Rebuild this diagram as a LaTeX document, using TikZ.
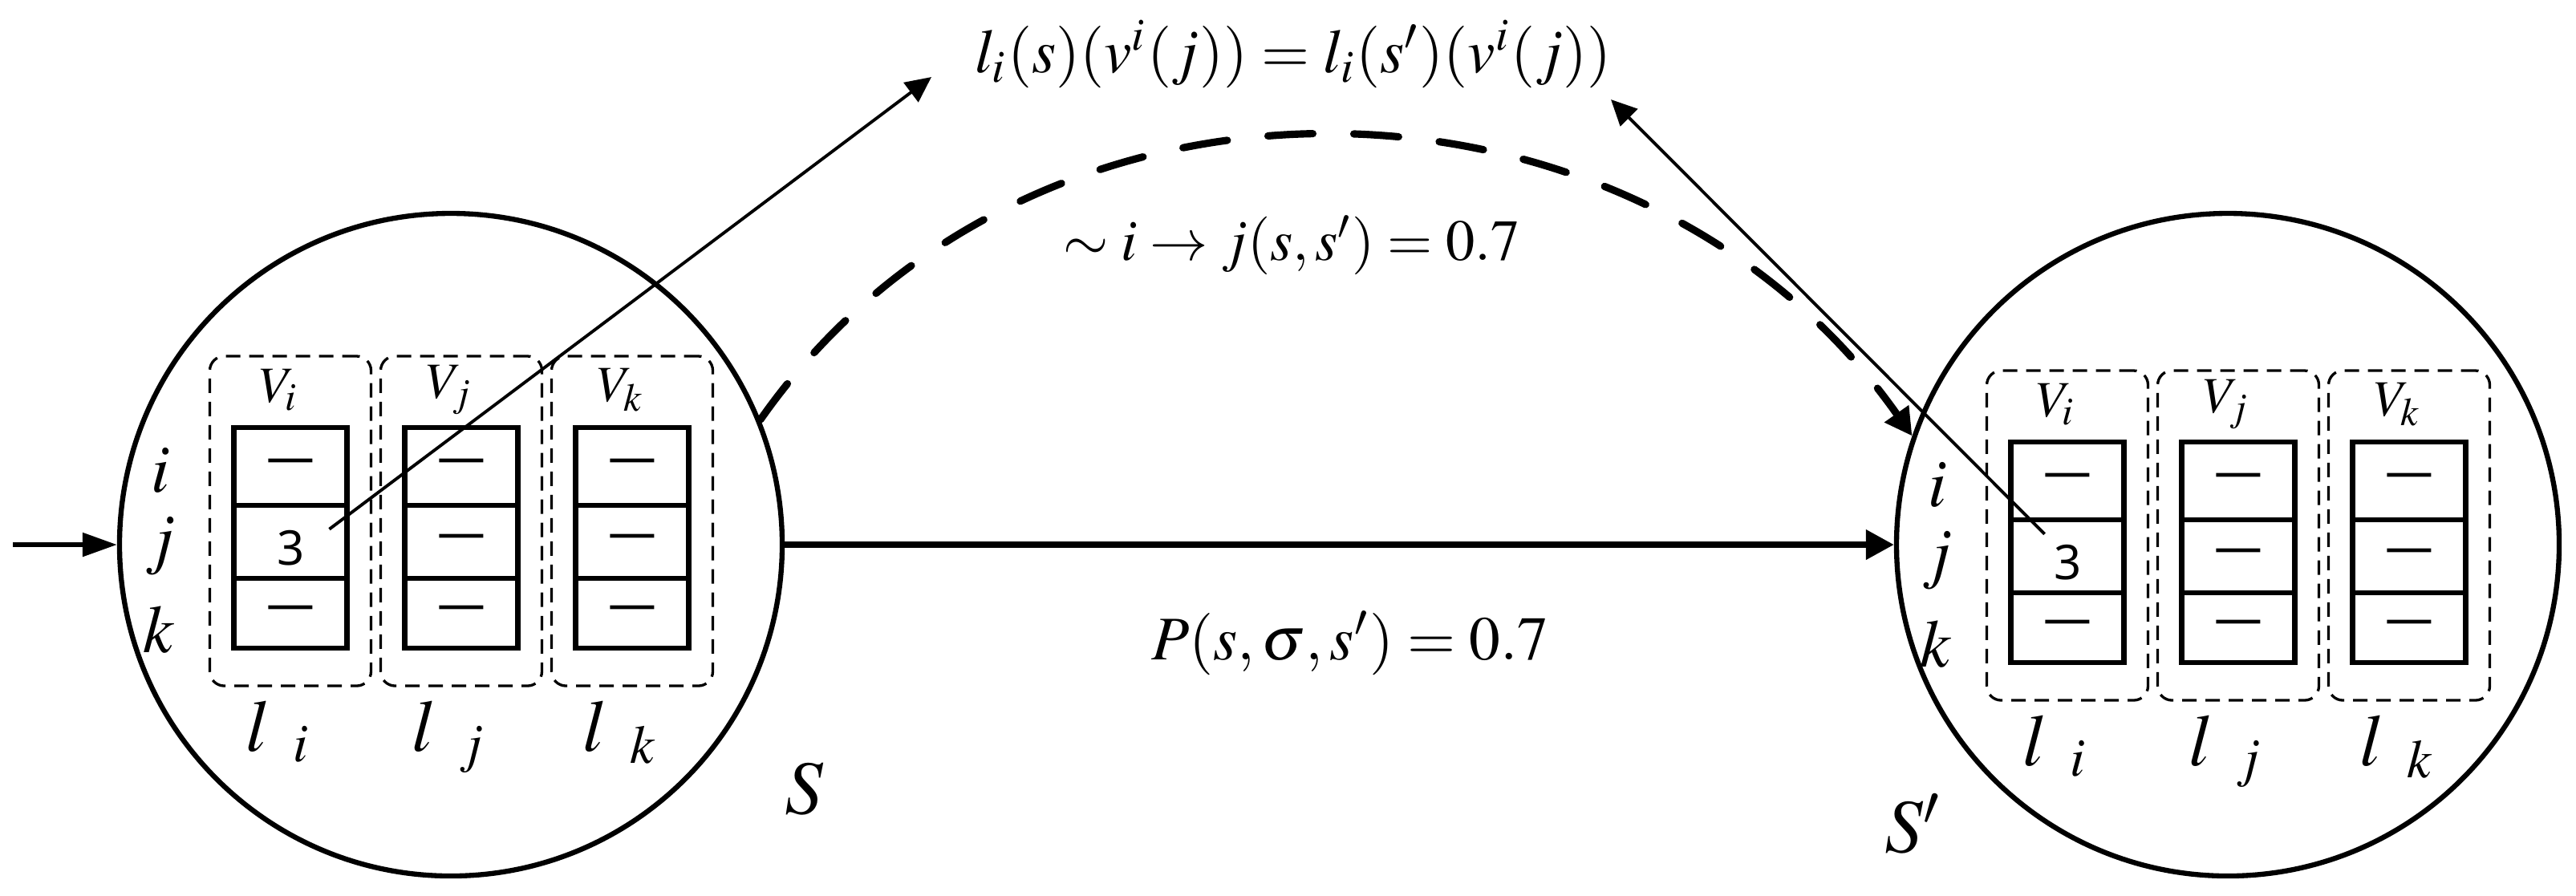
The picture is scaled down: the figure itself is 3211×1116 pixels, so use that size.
\documentclass[tikz,border=0pt]{standalone}
\usepackage{mathptmx}
\usepackage{fontspec}
\setmainfont{Liberation Serif}
\newfontfamily\cellfont{Noto Sans}
\usepackage{tikz}
\usetikzlibrary{arrows.meta, calc}

\begin{document}
\begin{tikzpicture}[x=0.05mm, y=-0.05mm,
        state/.style={draw, circle, line width=0.9pt, minimum size=41.3mm, inner sep=0pt},
        group/.style={draw, dash pattern=on 0.9mm off 0.55mm, line width=0.47pt,
            rounded corners=0.9mm, minimum width=10.05mm, minimum height=20.55mm, inner sep=0pt},
        cell/.style={draw, line width=0.9pt, minimum width=7.05mm, inner sep=0pt,
            font=\cellfont\fontsize{8.5}{10}\selectfont},
        digit/.style={inner sep=0pt, font=\cellfont\fontsize{8.5}{10}\selectfont},
        rowname/.style={anchor=base, font=\fontsize{12}{14}\selectfont},
        vname/.style={font=\fontsize{9}{11}\selectfont},
        lname/.style={anchor=base, font=\fontsize{13}{15}\selectfont},
        sname/.style={font=\fontsize{13.5}{16}\selectfont},
        eqn/.style={font=\fontsize{11}{13}\selectfont}]
        \useasboundingbox (0, 0) rectangle (3211, 1116);
        \node [state] (s) at (562, 679) {};
        \node [state] (t) at (2777, 679) {};
        \foreach \st/\dx/\dy in {s/0/0, t/2215/18} {
            \foreach \col/\cx/\cmid in {i/362/{}, j/575/—, k/788/—} {
                \node [group] (\st-\col) at (\cx+\dx, 649.5+\dy) {};
                \node [cell, minimum height=4.85mm] (\st-\col-1) at (\cx+\dx, 581.5+\dy) {—};
                \node [cell, minimum height=4.55mm] (\st-\col-2) at (\cx+\dx, 675.5+\dy) {\cmid};
                \node [cell, minimum height=4.35mm] (\st-\col-3) at (\cx+\dx, 764.5+\dy) {—};
                \node [vname] (\st-v\col) at (\cx-14+\dx, 486+\dy) {\( V_{\col} \)};
                \node [lname] (\st-l\col) at (\cx-15+\dx, 936+\dy) {\( l_{\mkern9mu\col} \)};
            }
            \node [rowname] (\st-ri) at (200+\dx, 613+\dy) {\( i \)};
            \node [rowname] (\st-rj) at (200+\dx, 699+\dy) {\( j \)};
            \node [rowname] (\st-rk) at (198+\dx, 813+\dy) {\( k \)};
            \node [digit] (\st-three) at (363+\dx, 683+\dy) {3};
        }
        \node [sname] (s-name) at (1003, 983) {\( S \)};
        \node [sname] (t-name) at (2385, 1027) {\( S' \)};
        \node [eqn] (eq) at (1612, 68) {\( l_i(s)(v^i(j)) = l_i(s')(v^i(j)) \)};
        \node [eqn, font=\fontsize{10.3}{12}\selectfont] (dep) at (1610, 306) {\( \sim i \rightarrow j(s,s') = 0.7 \)};
        \node [eqn] (prob) at (1683, 802) {\( P(s,\sigma,s') = 0.7 \)};
        \coordinate (eqL) at (1161, 96);
        \coordinate (eqR) at (2008, 124);
        \coordinate (init) at (16, 679);
        \path [draw, line width=0.8pt, arrows={-Triangle[length=2.15mm, width=1.45mm]}] (init) -- (s);
        \path [draw, line width=1.05pt, arrows={-Triangle[length=1.75mm, width=1.8mm]}] (s) -- (t);
        \path [draw, line width=0.55pt, arrows={-Triangle[length=1.6mm, width=1.5mm]}]
            ($(s-three.north east)+(29, 0)$) -- (eqL);
        \path [draw, line width=0.55pt, arrows={-Triangle[length=1.6mm, width=1.5mm]}]
            ($(t-three.north west)+(-11, -12)$) -- (eqR);
        \path [draw, line width=1.3pt, line cap=round, dash pattern=on 2.8mm off 2.55mm,
            arrows={-Triangle[length=1.7mm, width=1.75mm]}]
            (s.22) .. controls (1290, 35) and (2045, 62) .. (t.161);
\end{tikzpicture}
\end{document}
